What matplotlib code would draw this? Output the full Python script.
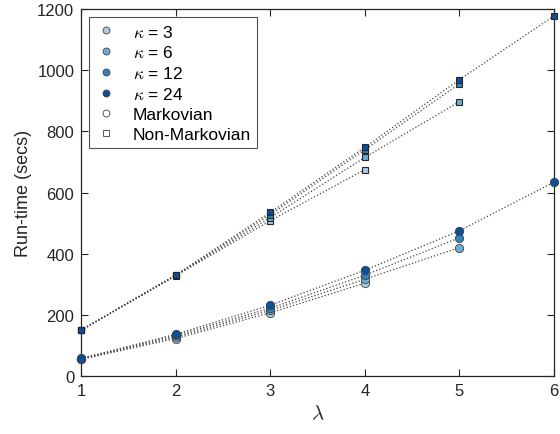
import numpy as np
import matplotlib

matplotlib.use('Agg')
import matplotlib.pyplot as plt
from matplotlib.lines import Line2D

plt.rcParams['font.family'] = ['Liberation Sans', 'DejaVu Sans']
plt.rcParams['mathtext.fontset'] = 'cm'

kappas = [3, 6, 12, 24]
colours = ['#a9cce4', '#6aaed6', '#3282bd', '#0b4f98']

# run-time per lambda, Markovian (circles)
lam_markov = {
    3: [1, 2, 3, 4],
    6: [1, 2, 3, 4, 5],
    12: [1, 2, 3, 4, 5],
    24: [1, 2, 3, 4, 5, 6],
}
time_markov = {
    3: [55, 123, 207, 304],
    6: [56, 128, 215, 317, 420],
    12: [57, 133, 222, 330, 452],
    24: [58, 137, 232, 346, 475, 634],
}

# run-time per lambda, Non-Markovian (squares)
lam_nonmarkov = lam_markov
time_nonmarkov = {
    3: [150, 328, 508, 675],
    6: [150, 329, 518, 715, 897],
    12: [151, 330, 528, 740, 955],
    24: [151, 331, 535, 748, 969, 1177],
}

fig = plt.figure(figsize=(5.6, 4.35), dpi=100)
ax = fig.add_axes([0.145, 0.133, 0.844, 0.844])

for k, c in zip(kappas, colours):
    ax.plot(lam_markov[k], time_markov[k], ':', color='#444444', lw=0.9, zorder=1)
    ax.plot(lam_nonmarkov[k], time_nonmarkov[k], ':', color='#444444', lw=0.9, zorder=1)

for k, c in zip(kappas, colours):
    ax.plot(lam_markov[k], time_markov[k], 'o', ms=6, mfc=c, mec='#404040',
            mew=0.6, ls='none', clip_on=False, zorder=3)
    ax.plot(lam_nonmarkov[k], time_nonmarkov[k], 's', ms=5, mfc=c, mec='#262626',
            mew=0.8, ls='none', clip_on=False, zorder=3)

ax.set_xlim(1, 6)
ax.set_ylim(0, 1200)
ax.set_xticks([1, 2, 3, 4, 5, 6])
ax.set_yticks([0, 200, 400, 600, 800, 1000, 1200])
ax.tick_params(direction='in', length=5, width=0.8, labelsize=12, colors='#262626',
               top=True, right=True, pad=5)
for s in ax.spines.values():
    s.set_color('#262626')
    s.set_linewidth(0.9)
ax.set_xlabel(r'$\lambda$', fontsize=15, color='#262626')
ax.set_ylabel('Run-time (secs)', fontsize=13, color='#262626')

handles = []
for k, c in zip(kappas, colours):
    handles.append(Line2D([], [], marker='o', ms=5, mfc=c, mec='#404040', mew=0.6,
                          ls='none', label=r'$\kappa$ = %d' % k))
handles.append(Line2D([], [], marker='o', ms=5, mfc='white', mec='#404040', mew=0.6,
                      ls='none', label='Markovian'))
handles.append(Line2D([], [], marker='s', ms=4, mfc='white', mec='#404040', mew=0.6,
                      ls='none', label='Non-Markovian'))
leg = ax.legend(handles=handles, loc='upper left', bbox_to_anchor=(0.016, 0.977),
                fontsize=12.5, frameon=True, fancybox=False, edgecolor='#262626',
                handlelength=1.3, handletextpad=0.9, labelspacing=0.28,
                borderpad=0.35, borderaxespad=0)
leg.get_frame().set_linewidth(0.8)

fig.savefig('out.png', dpi=100)
